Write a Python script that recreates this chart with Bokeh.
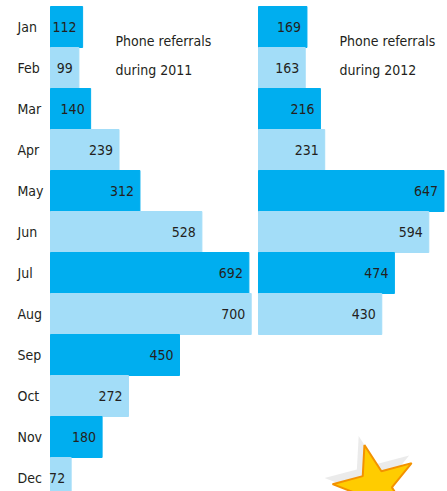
from bokeh.plotting import figure
from bokeh.models import Range1d, ColumnDataSource
from bokeh.core.properties import value
from bokeh.embed import file_html
from bokeh.resources import INLINE

months = ["Jan", "Feb", "Mar", "Apr", "May", "Jun", "Jul", "Aug", "Sep", "Oct", "Nov", "Dec"]
referrals_2011 = [112, 99, 140, 239, 312, 528, 692, 700, 450, 272, 180, 72]
referrals_2012 = [169, 163, 216, 231, 647, 594, 474, 430]
title_2011 = ["Phone referrals", "during 2011"]
title_2012 = ["Phone referrals", "during 2012"]

DARK = "#00AEEF"
LIGHT = "#A3DDF8"
TEXT = "#231F20"
FONT = value("DejaVu Sans Condensed")
FS = "14px"

W, H = 447, 491
K = 0.2867          # pixels per referral
LEFT_PX = 50        # left edge of 2011 bars
OFFSET_2012 = 208 / K   # right panel shift in data units
ROW = 41
TOP = 6

p = figure(width=W, height=H, output_backend="svg", toolbar_location=None,
           x_range=Range1d(-LEFT_PX / K, (W - LEFT_PX) / K),
           y_range=Range1d(-0.5 - TOP / ROW + H / ROW, -0.5 - TOP / ROW),
           min_border=0, outline_line_color=None)
p.axis.visible = False
p.grid.visible = False
p.background_fill_color = "white"
p.border_fill_color = "white"

def colors(n):
    return [DARK if i % 2 == 0 else LIGHT for i in range(n)]

pad = 6 / K
src11 = ColumnDataSource(dict(
    y=list(range(len(referrals_2011))), left=[0] * len(referrals_2011),
    right=referrals_2011, color=colors(len(referrals_2011)),
    lab=[str(v) for v in referrals_2011],
    tx=[v - pad for v in referrals_2011], month=months,
    mx=[-33 / K] * len(months)))
p.hbar(y="y", left="left", right="right", height=1.0, color="color", source=src11)
p.text(x="tx", y="y", text="lab", source=src11, text_align="right", text_baseline="middle",
       text_font=FONT, text_font_size=FS, text_color=TEXT)
p.text(x="mx", y="y", text="month", source=src11, text_align="left", text_baseline="middle",
       text_font=FONT, text_font_size=FS, text_color=TEXT)

src12 = ColumnDataSource(dict(
    y=list(range(len(referrals_2012))), left=[OFFSET_2012] * len(referrals_2012),
    right=[OFFSET_2012 + v for v in referrals_2012], color=colors(len(referrals_2012)),
    lab=[str(v) for v in referrals_2012],
    tx=[OFFSET_2012 + v - pad for v in referrals_2012]))
p.hbar(y="y", left="left", right="right", height=1.0, color="color", source=src12)
p.text(x="tx", y="y", text="lab", source=src12, text_align="right", text_baseline="middle",
       text_font=FONT, text_font_size=FS, text_color=TEXT)

# panel titles
for lines, px in ((title_2011, 115), (title_2012, 339)):
    p.text(x=[(px - LEFT_PX) / K] * 2, y=[(40 - TOP) / ROW - 0.5, (69 - TOP) / ROW - 0.5],
           text=lines, text_align="left", text_baseline="alphabetic",
           text_font=FONT, text_font_size=FS, text_color=TEXT)

# decorative star
sx, sy = (375 - LEFT_PX) / K, (486 - TOP) / ROW - 0.5
p.scatter(x=[sx - 5 / K], y=[sy - 6 / ROW], marker="star", size=92, angle=0.26,
          fill_color="#999999", fill_alpha=0.2, line_color=None)
p.scatter(x=[sx], y=[sy], marker="star", size=86, angle=0.26,
          fill_color="#FFCC00", line_color="#F39200", line_width=2)

open("out.html", "w").write(file_html(p, INLINE))
